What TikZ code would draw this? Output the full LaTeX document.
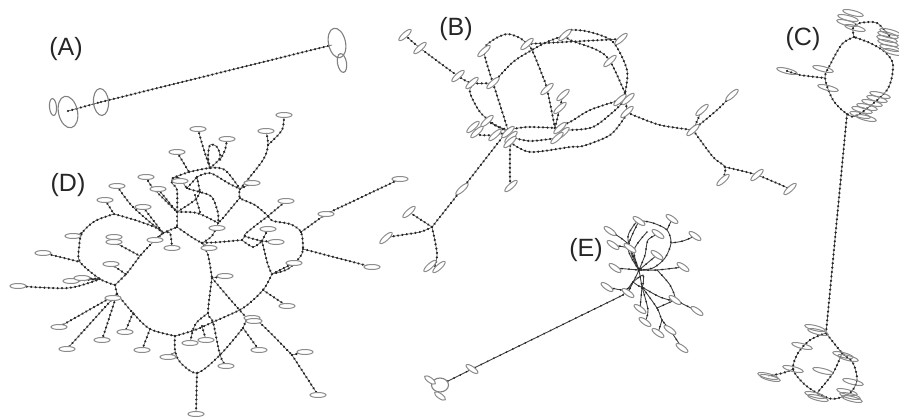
\documentclass[tikz,border=0pt]{standalone}
\usepackage{fontspec}
\setmainfont{Liberation Sans}
\usetikzlibrary{shapes.geometric,backgrounds}
\tikzset{
  x=1pt,y=-1pt,
  link/.style={draw=black!60,line width=.7pt,postaction={draw=black!85,line width=2.5pt,line cap=round,dash pattern=on .01pt off 4.4pt}},
  thinlink/.style={draw=black!75,line width=.9pt,postaction={draw=black!85,line width=2pt,line cap=round,dash pattern=on .01pt off 7pt}},
  ell/.style={draw=black!45,fill=white,ellipse,inner sep=0pt,line width=1pt},
  ring/.style={draw=black!50,ellipse,inner sep=0pt,line width=1.1pt},
  dE/.style={ell,minimum width=16pt,minimum height=5pt},
  bE/.style={ell,minimum width=16pt,minimum height=5pt,rotate=42},
  cE/.style={ell,minimum width=21pt,minimum height=5pt,rotate=-14},
  eE/.style={ell,minimum width=14pt,minimum height=5pt,rotate=-35},
  lab/.style={font=\fontsize{25}{25}\selectfont,inner sep=0pt,text=black!85},
}
\newcommand{\Ls}[1]{\draw[link] plot[smooth,tension=.5] coordinates {#1};}
\newcommand{\Lt}[1]{\draw[thinlink] plot[smooth,tension=.5] coordinates {#1};}
\begin{document}
\begin{tikzpicture}
\useasboundingbox (0,0) rectangle (899,416);
% labels
\node[lab] (la) at (66,49) {(A)};
\node[lab] (lb) at (456,29) {(B)};
\node[lab] (lc) at (803,39) {(C)};
\node[lab] (ld) at (68,185) {(D)};
\node[lab] (le) at (586,250) {(E)};
% ---------- A
\node[ring,minimum width=7pt,minimum height=17pt,rotate=5] (a1) at (53,107) {};
\node[ring,minimum width=19pt,minimum height=32pt,rotate=12] (a2) at (68,112) {};
\node[ring,minimum width=15pt,minimum height=27pt,rotate=5] (a3) at (101,102) {};
\node[ring,minimum width=17pt,minimum height=30pt,rotate=12] (a4) at (337,43) {};
\node[ring,minimum width=9pt,minimum height=19pt,rotate=10] (a5) at (342,63) {};
\coordinate (a2c) at (68,111);
\coordinate (a4c) at (332,45);
\begin{pgfonlayer}{background}
\draw[link] (a2c) -- (a3.center);
\draw[link] (a3.center) -- (a4c);
\end{pgfonlayer}
% ---------- D
\foreach \n/\x/\y in {d1/198/129,d2/177/152,d3/146/177,d4/158/189,d5/117/186,d6/105/200,d7/143/207,d8/73/236,d9/114/237,d10/114/242,d11/155/240,d12/172/248,d13/43/253,d14/111/264,d15/284/115,d16/266/131,d17/227/139,d18/252/183,d19/286/201,d20/400/179,d21/326/214,d22/268/229,d23/276/242,d24/217/228,d25/209/248,d26/294/263,d27/372/267,d28/18/286,d29/71/281,d30/82/278,d31/113/298,d32/59/327,d33/67/349,d34/102/340,d35/125/332,d36/142/350,d37/168/357,d38/190/343,d39/206/340,d40/225/276,d41/226/366,d42/252/318,d43/254/321,d44/259/350,d45/287/306,d46/305/352,d47/318/395,d48/196/414,d49/180/181}
  {\node[dE] (\n) at (\x,\y) {};}
\foreach \n/\x/\y in {dj1/114/214,dj2/115/285,dj3/163/233,dj4/177/227,dj5/140/256,dj6/117/294,dj7/175/336,dj8/197/373,dj9/220/355,dj10/243/328,dj11/212/278,dj12/292/355,dj13/263/290,dj14/272/274,dj15/301/232,dj16/268/216,dj17/303/249,dj18/240/198,dj19/240/189,dj20/218/223,dj21/242/240,dj22/202/243,dj23/189/172,dj24/210/168,dj25/177/212,dj27/262/241,dj28/245/236,dj29/253/247,dj30/213/322,dj31/208/313,dj32/150/329,dj33/100/279,dj34/247/318,dj35/82/233,dj36/80/262,dj37/197/177,dj38/187/188,dj39/200/192}
  {\coordinate (\n) at (\x,\y);}
\begin{pgfonlayer}{background}
\Ls{(dj1) (95,221) (dj35) (79,248) (dj36) (dj33) (dj2)}
\Ls{(dj1) (135,220) (157,228) (dj3)}
\Ls{(dj3) (dj4)}
\Ls{(dj3) (150,245) (dj5) (127,273) (dj2)}
\Ls{(d10) (dj5)}
\Ls{(d14) (127,275)}
\Ls{(d13) (60,257) (dj36)}
\Ls{(d28) (68,288) (dj33)}
\Ls{(d29) (dj33)}
\Ls{(d30) (dj33)}
\Ls{(dj2) (dj6)}
\Ls{(dj6) (d31)}
\Ls{(dj6) (d32)}
\Ls{(dj6) (d33)}
\Ls{(dj6) (d34)}
\Ls{(133,313) (d35)}
\Ls{(dj6) (133,313) (dj32) (dj7)}
\Ls{(dj32) (d36)}
\Ls{(dj7) (175,350) (180,362) (dj8) (dj9) (dj10)}
\Ls{(dj8) (d48)}
\Ls{(d37) (175,352)}
\Ls{(dj10) (d44)}
\Ls{(dj10) (dj34)}
\Ls{(dj11) (dj31) (dj30) (dj9) (d41)}
\Ls{(dj11) (d40)}
\Ls{(dj11) (dj34) (260,323) (dj12)}
\Ls{(dj12) (d46)}
\Ls{(dj12) (d47)}
\Ls{(dj7) (195,330) (dj30) (243,308) (dj13) (dj14)}
\Ls{(dj13) (d45)}
\Ls{(dj14) (d26)}
\Ls{(dj31) (197,322) (193,330) (d38)}
\Ls{(202,326) (d39)}
\Ls{(dj14) (288,269) (300,257) (dj17) (dj15) (290,224) (273,221) (dj16)}
\Ls{(dj15) (d21)}
\Ls{(d21) (d20)}
\Ls{(dj17) (d27)}
\Ls{(dj16) (d19)}
\Ls{(dj16) (255,205) (dj18) (dj19)}
\Ls{(dj19) (263,160) (268,145) (d16)}
\Ls{(268,145) (282,130) (d15)}
\Ls{(dj19) (d18)}
\Ls{(dj18) (238,200) (223,218) (dj20)}
\Ls{(dj16) (250,230) (dj28) (dj27)}
\Ls{(dj21) (220,242) (dj22)}
\Ls{(dj21) (dj28)}
\Ls{(dj21) (dj29) (dj27)}
\Ls{(dj27) (d23)}
\Ls{(dj27) (d22)}
\Ls{(dj27) (268,265) (dj14)}
\Ls{(dj22) (208,255) (dj11)}
\Ls{(dj4) (193,238) (dj22)}
\Ls{(dj25) (197,213) (dj20)}
\Ls{(dj20) (d24)}
\Ls{(dj20) (212,236) (dj22)}
\Ls{(dj22) (d25)}
\Ls{(d1) (203,147) (dj24)}
\Ls{(d2) (dj23)}
\Ls{(dj23) (dj24) (225,170) (dj19)}
\Ls{(dj37) (210,173) (228,183) (dj19)}
\Ls{(dj24) (208,157) (210,145) (217,147) (220,158) (dj24)}
\Ls{(d17) (225,150) (220,160)}
\Ls{(dj25) (dj4)}
\Ls{(d3) (153,188) (dj25)}
\Ls{(d4) (dj25)}
\Ls{(d7) (dj3)}
\Ls{(d5) (133,207) (dj3)}
\Ls{(d6) (dj1)}
\Ls{(d11) (dj3)}
\Ls{(d12) (170,233) (dj3)}
\Ls{(d8) (dj35)}
\Ls{(dj23) (173,178) (172,183) (177,190) (dj25)}
\Ls{(173,178) (180,178) (dj38) (dj39) (212,197) (218,213) (dj20)}
\Ls{(dj38) (dj37)}
\Ls{(dj37) (dj39)}
\Ls{(dj39) (195,200) (dj25)}
\Ls{(195,195) (200,212)}
\end{pgfonlayer}
% ---------- B
\foreach \n/\x/\y in {b1/405/35,b2/420/48,b3/458/76,b4/472/83,b5/493/83,b6/484/51,b7/527/44,b8/547/89,b9/565/35,b10/563/95,b11/560/108,b12/487/121,b13/473/127,b14/477/132,b15/495/135,b16/508/132,b17/511/137,b18/510/142,b19/560/128,b20/563/133,b21/557/138,b22/621/39,b23/610/61,b24/628/99,b25/620/100,b26/627/112,b27/702/110,b28/732/95,b29/693/130,b30/723/180,b31/757/175,b32/790/189,b33/462/189,b34/511/186,b35/409/212,b36/386/238,b37/430/266,b38/439/267}
  {\node[bE] (\n) at (\x,\y) {};}
\foreach \n/\x/\y in {bj1/532/50,bj2/432/227,bj3/725/167,bj4/625/93,bj5/508/130,bj6/555/128}
  {\coordinate (\n) at (\x,\y);}
\begin{pgfonlayer}{background}
\Ls{(b1) (b2) (b3) (b4) (b5)}
\Ls{(b4) (470,93) (480,112) (495,125) (bj5)}
\Ls{(b5) (b6) (493,40) (507,34) (520,38) (b7) (bj1) (543,77) (b8) (bj6)}
\Ls{(b5) (513,62) (bj1) (547,42) (b9)}
\Ls{(b9) (570,30) (590,32) (613,42) (627,70) (bj4)}
\Ls{(b9) (570,40) (597,50) (b23) (bj4)}
\Ls{(b7) (b22)}
\Ls{(b5) (bj5)}
\Ls{(bj5) (527,127) (bj6)}
\Ls{(bj6) (570,122) (590,110) (b25)}
\Ls{(bj6) (570,130) (593,127) (613,112) (625,100)}
\Ls{(b18) (530,152) (570,147) (583,146) (610,135) (625,117) (b26)}
\Ls{(b17) (530,141) (b21)}
\Ls{(bj6) (b10)}
\Ls{(b26) (633,115) (660,125) (b29)}
\Ls{(bj4) (b26)}
\Ls{(b29) (b27)}
\Ls{(b29) (717,110) (b28)}
\Ls{(b29) (713,157) (bj3) (b30)}
\Ls{(bj3) (b31) (b32)}
\Ls{(bj5) (b33) (bj2)}
\Ls{(bj2) (b35)}
\Ls{(bj2) (420,232) (395,236) (b36)}
\Ls{(bj2) (437,253) (435,266)}
\Ls{(b17) (510,150) (510,180) (b34)}
\Ls{(b14) (480,135) (b15) (b16)}
\Ls{(b12) (b16)}
\Ls{(b13) (b14)}
\end{pgfonlayer}
% ---------- C
\foreach \n/\x/\y in {c1/853/13,c2/848/18,c3/847/23,c4/855/28,c5/890/32,c6/888/35,c7/887/39,c8/888/43,c9/890/48,c10/893/52,c11/787/71,c12/823/69,c13/828/88,c14/880/95,c15/877/99,c16/872/103,c17/867/107,c18/862/110,c19/860/115,c20/866/118,c21/815/328,c22/818/332,c23/802/346,c24/793/369,c25/768/376,c26/770/378,c27/823/371,c28/843/355,c29/848/358,c30/853/382,c31/815/395,c32/818/398,c33/847/392,c34/850/396,c35/852/399}
  {\node[cE,fill=none] (\n) at (\x,\y) {};}
\foreach \n/\x/\y in {cj1/854/37,cj2/825/78,cj3/858/115,cj4/847/114,cj5/826/333,cj6/817/393,cj7/842/353}
  {\coordinate (\n) at (\x,\y);}
\begin{pgfonlayer}{background}
\Ls{(cj1) (842,44) (830,65) (cj2) (833,100) (cj4) (cj3) (887,90) (893,65) (885,52) (870,43) (cj1)}
\Ls{(cj1) (853,28) (860,23) (877,23) (890,37)}
\Ls{(c11) (800,75) (cj2)}
\draw[link] (cj4) -- (cj5);
\Ls{(cj5) (810,340) (798,353) (c24) (803,383) (cj6) (833,399) (850,393) (857,380) (853,363) (cj7) (cj5)}
\Ls{(cj7) (833,373) (cj6)}
\Ls{(c24) (783,373) (c25)}
\end{pgfonlayer}
% ---------- E
\foreach \n/\x/\y in {e1/639/221,e2/672/219,e3/695/236,e4/658/234,e5/610/231,e6/613/245,e7/630/248,e8/657/255,e9/683/267,e10/615/268,e11/607/287,e12/628/293,e13/675/300,e14/697/311,e15/640/309,e16/645/322,e17/658/333,e18/670/330,e19/682/348,e20/472/369}
  {\node[eE] (\n) at (\x,\y) {};}
\node[ring,fill=white,minimum width=17pt,minimum height=14pt] (e21) at (440,385) {};
\node[eE,minimum width=13pt] (e22) at (430,380) {};
\node[eE,minimum width=13pt] (e23) at (440,396) {};
\foreach \n/\x/\y in {ej1/639/270,ej2/633/282,ej3/642/287,ej4/643/275,ej5/623/295,ej6/657/308,ej7/662/320,ej8/657/270}
  {\coordinate (\n) at (\x,\y);}
\begin{pgfonlayer}{background}
\draw[thinlink] (e21) -- (e20);
\draw[thinlink] (e20) -- (ej5);
\draw[thinlink] (ej5) -- (ej2);
\Lt{(ej1) (628,240) (632,228) (e1) (653,223) (667,230) (671,243) (665,258) (653,268) (ej1)}
\Lt{(e2) (667,230)}
\Lt{(e3) (683,241) (671,243)}
\Lt{(e1) (628,248) (ej1)}
\Lt{(e4) (648,240) (645,255) (ej1)}
\Lt{(647,232) (634,250) (ej1)}
\Lt{(e5) (627,243) (633,258) (ej1)}
\Lt{(e6) (e7)}
\Lt{(e8) (ej1)}
\Lt{(e9) (ej8) (ej1)}
\Lt{(e10) (ej1)}
\Lt{(e11) (625,290) (ej2) (ej1)}
\Lt{(ej2) (e12)}
\Lt{(ej2) (ej3) (ej4) (ej2)}
\Lt{(ej1) (ej3)}
\Lt{(ej8) (670,285) (e13) (660,297) (ej3)}
\Lt{(e13) (e14)}
\Lt{(ej3) (ej6) (ej7) (e18) (e19)}
\Lt{(ej6) (e13)}
\Lt{(ej7) (e17)}
\Lt{(e15) (ej3)}
\Lt{(e16) (648,310) (ej3)}
\end{pgfonlayer}
\end{tikzpicture}
\end{document}
